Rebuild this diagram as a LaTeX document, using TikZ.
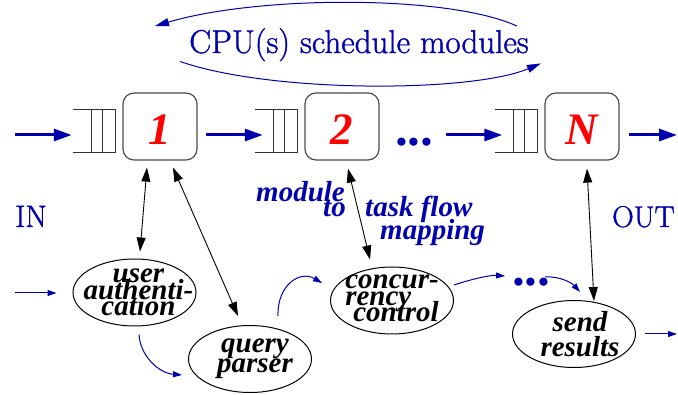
\documentclass[tikz,border=0pt]{standalone}
\usepackage{fontspec}
\newfontfamily\tbi{Liberation Serif}
\newfontfamily\lmh{Latin Modern Roman}[FakeBold=1.2]
\usetikzlibrary{arrows.meta,shapes.geometric,calc}
\definecolor{myblue}{RGB}{0,0,175}
\definecolor{myred}{RGB}{255,0,0}
\newcommand\tasktightfont[1]{\tbi\bfseries\itshape\fontsize{29pt}{#1pt}\selectfont\lineskiplimit=-100pt\relax}
\begin{document}
\begin{tikzpicture}[x=1pt,y=-1pt,
  modbox/.style={draw=black!70, line width=1.2pt, rounded corners=11pt,
    minimum width=74pt, minimum height=67pt, inner sep=0pt, text=myred,
    font=\tbi\bfseries\itshape\fontsize{45}{45}\selectfont,
    text height=36pt, text depth=0pt},
  queue/.style={minimum width=42pt, minimum height=42pt, inner sep=0pt},
  qline/.style={draw=black!80, line width=1pt},
  big/.style={draw=myblue, line width=3pt, -{Triangle[length=18pt,width=12pt]}},
  thinb/.style={draw=myblue, line width=1pt, -{Triangle[length=9pt,width=6pt]}},
  arcb/.style={draw=myblue, line width=1pt, -{Triangle[length=14pt,width=8pt]}},
  dbl/.style={draw=black, line width=0.9pt,
    {Triangle[length=14pt,width=9pt]}-{Triangle[length=14pt,width=9pt]}},
  task/.style={ellipse, draw=black, line width=1pt, minimum width=123pt,
    minimum height=67pt, inner sep=0pt},
  tasktext/.style={inner sep=0pt, align=center, text=black,
    font={\tasktightfont{#1}}},
  tasktext/.default=16,
  bluetext/.style={inner sep=0pt, text=myblue, anchor=base west,
    font=\tbi\bfseries\itshape\fontsize{29}{34}\selectfont},
  plaintext/.style={inner sep=0pt, text=myblue, anchor=base west,
    font=\lmh\fontsize{#1}{#1}\selectfont},
  dotsty/.style={inner sep=0pt, text=myblue, anchor=base,
    font=\tbi\bfseries\itshape\fontsize{50}{50}\selectfont}
]
\useasboundingbox (0,0) rectangle (678,395);

% title and side labels
\node[plaintext=33] (cpu) at (189,53) {CPU(s) schedule modules};
\node[plaintext=31] (inl) at (15,227) {IN};
\node[plaintext=30] (outl) at (612,227) {OUT};

% modules
\node[modbox] (b1) at (160,126.5) {1};
\node[modbox] (b2) at (342,126.5) {2};
\node[modbox] (bN) at (582,126.5) {N};

% queues
\node[queue] (q1) at (94,131) {};
\node[queue] (q2) at (276,131) {};
\node[queue] (qN) at (516.5,131) {};
\foreach \q in {q1,q2,qN}{
  \draw[qline] (\q.north west) -- (\q.north east) -- (\q.south east) -- (\q.south west);
  \draw[qline] ([xshift=-24pt]\q.north east) -- ([xshift=-24pt]\q.south east);
  \draw[qline] ([xshift=-13pt]\q.north east) -- ([xshift=-13pt]\q.south east);
}

% dots
\node[dotsty] (d1) at (416,145.5) {...};
\node[dotsty] (d2) at (533,286) {...};

% free ends
\coordinate (in) at (15,135);
\coordinate (out) at (677,135);
\coordinate (inA) at (15,293);
\coordinate (outA) at (677,334);

% main flow
\draw[big, shorten >=1pt] (in) -- (in -| q1.west);
\draw[big, shorten <=8pt, shorten >=-8pt] (b1.east |- in) -- (q2.west |- in);
\draw[big, shorten <=11pt, shorten >=-7pt] (d1.east |- in) -- (qN.west |- in);
\draw[big, shorten <=9pt] (bN.east |- out) -- (out);

% scheduling arcs
\draw[arcb] ($(cpu.north east)+(-12,-2)$) .. controls (450,-5) and (260,-5) .. ($(cpu.north west)+(-34,-2)$);
\draw[arcb] ($(cpu.south west)+(-9,0)$) .. controls (270,93) and (470,93) .. ($(cpu.south east)+(12,2)$);

% tasks
\node[task] (ua) at (134.5,292.5) {};
\node[task] (qp) at (250,359) {};
\node[task] (cc) at (392,300.5) {};
\node[task] (sr) at (574,334) {};
\node[tasktext=16.5, xshift=4pt] (uat) at (ua) {user\\authenti-\\cation};
\node[tasktext=20, xshift=5pt] (qpt) at (qp) {query\\parser};
\node[tasktext=16.5, align=left, yshift=2pt] (cct) at (cc) {concur-\\rency\\\hspace*{8pt}control};
\node[tasktext=24.5, xshift=6pt] (srt) at (sr) {send\\results};

% mapping label
\node[bluetext] (m1) at (256,202) {module};
\node[bluetext] (m2) at (323,217) {to};
\node[bluetext] (m3) at (365,217) {task flow};
\node[bluetext] (m4) at (380,240) {mapping};

% module-task mapping arrows
\draw[dbl] ($(b1.south)+(-13,7)$) -- ($(ua.north)+(5.5,-7)$);
\draw[dbl] ($(b1.south)+(13,7)$) -- ($(qp.north)+(-12,-9)$);
\draw[dbl] ($(b2.south)+(6,8)$) -- ($(cc.north)+(-22,-7)$);
\draw[dbl] ($(bN.south)+(5,8)$) -- ($(sr.north)+(20,1)$);

% task flow
\draw[thinb, shorten >=16pt] (inA) -- (inA -| ua.west);
\draw[thinb] ($(ua.south)+(4.5,8)$) .. controls (140,355) and (158,373) .. ($(qp.west)+(-6,16)$);
\draw[thinb] ($(qp.north)+(28,-9)$) .. controls (277,285) and (300,270) .. ($(cc.west)+(-8,-17.5)$);
\draw[thinb] ($(cc.east)+(0,-15.5)$) .. controls (472,279) and (490,275) .. ($(d2.base west)+(-9,-10)$);
\draw[thinb] ($(d2.base east)+(-7,-9)$) .. controls (560,276) and (572,283) .. ($(sr.north)+(6,-8)$);
\draw[thinb, shorten <=9pt] (sr.east |- outA) -- (outA);
\end{tikzpicture}
\end{document}
